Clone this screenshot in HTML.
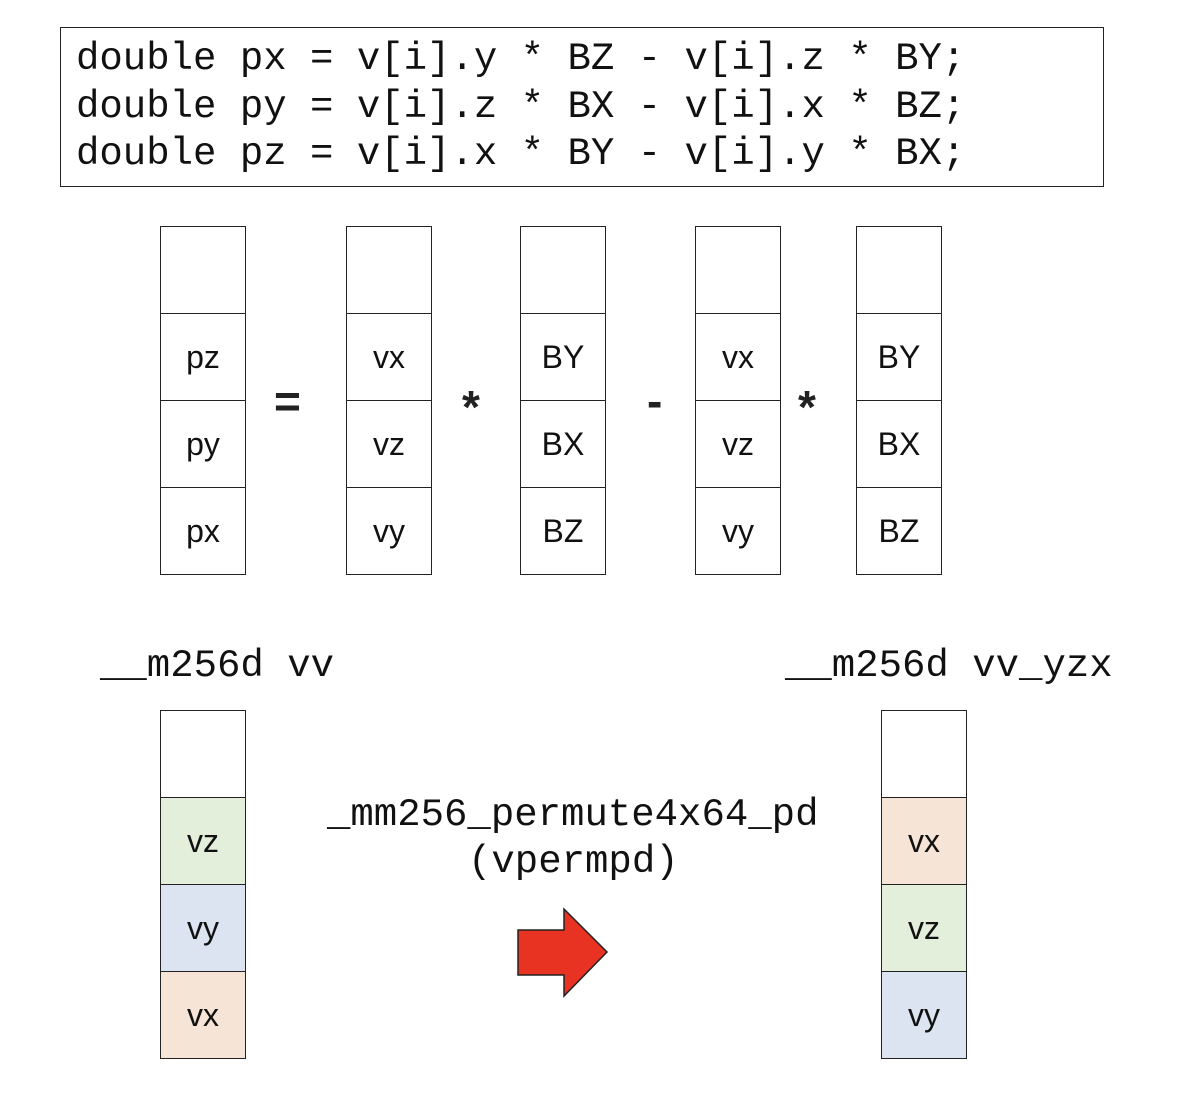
<!DOCTYPE html>
<html><head><style>
body{margin:0;width:1200px;height:1107px;background:#fff;position:relative;font-family:"Liberation Sans",sans-serif;overflow:hidden}
.a{position:absolute}
.mono{font-family:"Liberation Mono",monospace;font-size:39px;white-space:pre;color:#111}
.c{position:absolute;width:85px;height:86px;border:1px solid #222;box-sizing:border-box;font-size:32px;text-align:center;line-height:86px;color:#111}
.op{position:absolute;font-size:46px;font-weight:bold;color:#222}
</style></head><body>
<div class="a" style="left:60px;top:27px;width:1042px;height:158px;border:1px solid #222"></div>
<div class="a mono" style="left:76px;top:36px;line-height:47.5px">double px = v[i].y * BZ - v[i].z * BY;
double py = v[i].z * BX - v[i].x * BZ;
double pz = v[i].x * BY - v[i].y * BX;</div>
<div id="cols"></div>
<div class="op" style="left:274px;top:374px">=</div>
<div class="op" style="left:462px;top:380px">*</div>
<div class="op" style="left:647px;top:374px">-</div>
<div class="op" style="left:798px;top:380px">*</div>
<div class="a mono" style="left:100px;top:644px">__m256d vv</div>
<div class="a mono" style="left:785px;top:644px">__m256d vv_yzx</div>
<div class="a mono" style="left:327px;top:793px">_mm256_permute4x64_pd</div>
<div class="a mono" style="left:468px;top:840px">(vpermpd)</div>
<svg class="a" style="left:0;top:0" width="1200" height="1107"><polygon points="518,930 564,930 564,909 607,952 564,996 564,975 518,975" fill="#e83323" stroke="#222" stroke-width="1.5"/></svg>
<script>
function col(x,y0,labels,colors){let h='';for(let i=0;i<4;i++){h+=`<div class="c" style="left:${x}px;top:${y0+i*87}px;height:88px;width:86px;background:${colors?colors[i]:'#fff'}">${labels[i]}</div>`;}return h;}
let H='';
H+=col(160,226,['','pz','py','px']);
H+=col(346,226,['','vx','vz','vy']);
H+=col(520,226,['','BY','BX','BZ']);
H+=col(695,226,['','vx','vz','vy']);
H+=col(856,226,['','BY','BX','BZ']);
H+=col(160,710,['','vz','vy','vx'],['#fff','#e3eedb','#dce3f1','#f6e4d6']);
H+=col(881,710,['','vx','vz','vy'],['#fff','#f6e4d6','#e3eedb','#dce3f1']);
document.getElementById('cols').innerHTML=H;
</script>
</body></html>
